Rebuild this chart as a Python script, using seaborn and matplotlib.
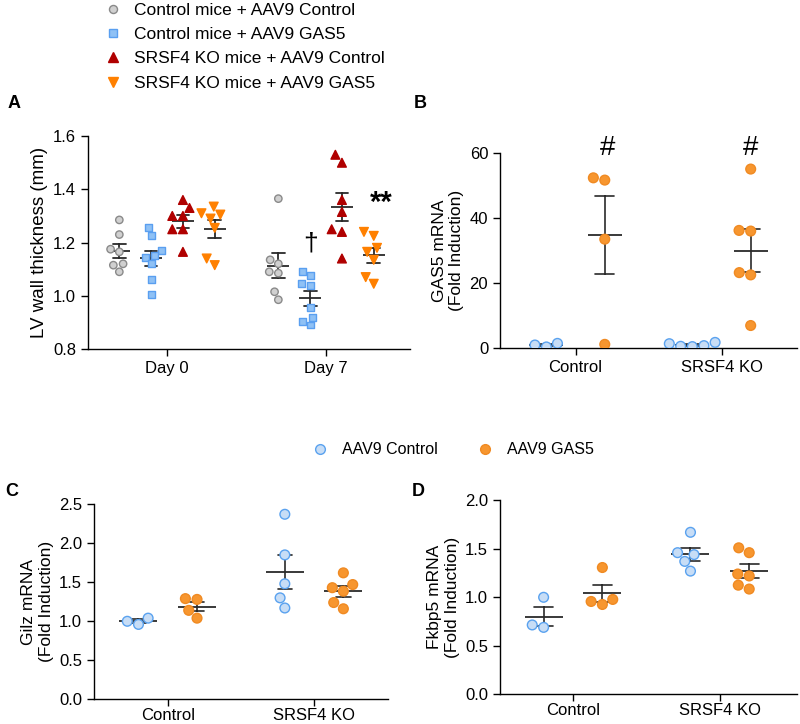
import numpy as np
import pandas as pd
import matplotlib
matplotlib.use("Agg")
import matplotlib.pyplot as plt
import seaborn as sns
from matplotlib.lines import Line2D

sns.set_theme(style="ticks")
plt.rcParams["font.family"] = ["Liberation Sans", "DejaVu Sans"]
plt.rcParams["text.color"] = "black"
plt.rcParams["axes.labelcolor"] = "black"
plt.rcParams["xtick.color"] = "black"
plt.rcParams["ytick.color"] = "black"
plt.rcParams["axes.edgecolor"] = "black"

# ---------------- Panel A data ----------------
days = ["Day 0", "Day 7"]
groups_A = ["Control mice + AAV9 Control", "Control mice + AAV9 GAS5",
            "SRSF4 KO mice + AAV9 Control", "SRSF4 KO mice + AAV9 GAS5"]
lv_d0_ctrl_ctrl = [1.285, 1.23, 1.175, 1.165, 1.12, 1.115, 1.09]
lv_d0_ctrl_gas5 = [1.255, 1.225, 1.17, 1.15, 1.145, 1.12, 1.06, 1.005]
lv_d0_ko_ctrl = [1.36, 1.33, 1.30, 1.30, 1.25, 1.25, 1.165]
lv_d0_ko_gas5 = [1.335, 1.31, 1.305, 1.29, 1.255, 1.14, 1.115]
lv_d7_ctrl_ctrl = [1.365, 1.135, 1.12, 1.09, 1.085, 1.015, 0.985]
lv_d7_ctrl_gas5 = [1.09, 1.075, 1.045, 1.04, 0.955, 0.92, 0.905, 0.89]
lv_d7_ko_ctrl = [1.53, 1.50, 1.36, 1.315, 1.25, 1.24, 1.14]
lv_d7_ko_gas5 = [1.24, 1.225, 1.18, 1.165, 1.135, 1.07, 1.045]

# ---------------- Panels B-D data ----------------
genotypes = ["Control", "SRSF4 KO"]
treatments = ["AAV9 Control", "AAV9 GAS5"]
gas5_ctrl_aavctrl = [1.5, 0.4, 1.0]
gas5_ctrl_aavgas5 = [51.8, 52.5, 33.6, 1.2]
gas5_ko_aavctrl = [0.8, 1.8, 0.5, 1.4, 0.6]
gas5_ko_aavgas5 = [55.2, 36.1, 36.3, 23.3, 22.6, 7.0]

gilz_ctrl_aavctrl = [1.04, 0.96, 1.0]
gilz_ctrl_aavgas5 = [1.29, 1.28, 1.14, 1.04]
gilz_ko_aavctrl = [2.37, 1.85, 1.48, 1.30, 1.17]
gilz_ko_aavgas5 = [1.62, 1.47, 1.43, 1.385, 1.24, 1.16]

fkbp5_ctrl_aavctrl = [1.0, 0.69, 0.715]
fkbp5_ctrl_aavgas5 = [1.307, 0.978, 0.926, 0.957]
fkbp5_ko_aavctrl = [1.67, 1.46, 1.44, 1.37, 1.27]
fkbp5_ko_aavgas5 = [1.51, 1.46, 1.24, 1.22, 1.085, 1.125]

# ---------------- styles ----------------
styleA = {
    groups_A[0]: dict(marker="o", fc="#d0d0d0", ec="#8a8a8a", size=5.3),
    groups_A[1]: dict(marker="s", fc="#8fc1f5", ec="#5a9ff0", size=5.0),
    groups_A[2]: dict(marker="^", fc="#b00000", ec="#b00000", size=6.3),
    groups_A[3]: dict(marker="v", fc="#ff8000", ec="#ff8000", size=6.3),
}
styleT = {
    treatments[0]: dict(fc="#c7ddf6", ec="#5aa2ef"),
    treatments[1]: dict(fc="#f7962f", ec="#f08a22"),
}
ERR = "#2a2a2a"
TICK_FS = 12

# ---------------- build frames ----------------
rows = []
for day, lists in zip(days, [[lv_d0_ctrl_ctrl, lv_d0_ctrl_gas5, lv_d0_ko_ctrl, lv_d0_ko_gas5],
                             [lv_d7_ctrl_ctrl, lv_d7_ctrl_gas5, lv_d7_ko_ctrl, lv_d7_ko_gas5]]):
    for g, vals in zip(groups_A, lists):
        for v in vals:
            rows.append((day, g, v))
dfA = pd.DataFrame(rows, columns=["day", "group", "value"])


def make_df(cc, cg, kc, kg):
    r = []
    for geno, lists in zip(genotypes, [[cc, cg], [kc, kg]]):
        for t, vals in zip(treatments, lists):
            for v in vals:
                r.append((geno, t, v))
    return pd.DataFrame(r, columns=["geno", "treat", "value"])


dfB = make_df(gas5_ctrl_aavctrl, gas5_ctrl_aavgas5, gas5_ko_aavctrl, gas5_ko_aavgas5)
dfC = make_df(gilz_ctrl_aavctrl, gilz_ctrl_aavgas5, gilz_ko_aavctrl, gilz_ko_aavgas5)
dfD = make_df(fkbp5_ctrl_aavctrl, fkbp5_ctrl_aavgas5, fkbp5_ko_aavctrl, fkbp5_ko_aavgas5)

fig = plt.figure(figsize=(8, 7.24), dpi=100)


def style_ax(ax, xpad=3.5):
    sns.despine(ax=ax)
    for s in ["left", "bottom"]:
        ax.spines[s].set_linewidth(1.0)
        ax.spines[s].set_color("black")
    ax.tick_params(axis="both", labelsize=TICK_FS, length=5, width=1.0, direction="out")
    ax.tick_params(axis="x", pad=xpad)
    ax.set_xlabel("")


# ---------------- Panel A ----------------
axA = fig.add_axes([0.11, 0.518, 0.4025, 0.294])
for g in groups_A:
    st = styleA[g]
    sns.swarmplot(data=dfA[dfA.group == g], x="day", y="value", hue="group",
                  hue_order=groups_A, order=days, dodge=True, marker=st["marker"],
                  palette={k: st["fc"] for k in groups_A}, edgecolor=st["ec"],
                  linewidth=1.0, size=st["size"], legend=False, ax=axA, warn_thresh=1)
sns.pointplot(data=dfA, x="day", y="value", hue="group", hue_order=groups_A, order=days,
              dodge=0.6, errorbar="se", capsize=0.08, markers="_", linestyle="none",
              palette={k: ERR for k in groups_A}, markersize=16, markeredgewidth=1.3,
              err_kws={"linewidth": 1.3}, legend=False, ax=axA)
axA.set_ylim(0.8, 1.6)
axA.set_yticks([0.8, 1.0, 1.2, 1.4, 1.6])
axA.set_yticklabels(["0.8", "1.0", "1.2", "1.4", "1.6"])
axA.set_xlim(-0.497, 1.528)
axA.set_ylabel("LV wall thickness (mm)", fontsize=13.5)
style_ax(axA)
axA.text(0.9, 1.195, "\u2020", ha="center", va="center", fontsize=19)
axA.text(1.35, 1.35, "**", ha="center", va="center", fontsize=21, fontweight="bold")


def panel(rect, df, ylim, yticks, yticklabels, ylabel, xlim, capsize, msize, xpad=3.5):
    ax = fig.add_axes(rect)
    for t in treatments:
        st = styleT[t]
        sns.swarmplot(data=df[df.treat == t], x="geno", y="value", hue="treat",
                      hue_order=treatments, order=genotypes, dodge=True, marker="o",
                      palette={k: st["fc"] for k in treatments}, edgecolor=st["ec"],
                      linewidth=1.0, size=7, legend=False, ax=ax, warn_thresh=1)
    sns.pointplot(data=df, x="geno", y="value", hue="treat", hue_order=treatments,
                  order=genotypes, dodge=0.4, errorbar="se", capsize=capsize, markers="_",
                  linestyle="none", palette={k: ERR for k in treatments},
                  markersize=msize, markeredgewidth=1.3, err_kws={"linewidth": 1.2},
                  legend=False, ax=ax)
    ax.set_ylim(*ylim)
    ax.set_yticks(yticks)
    ax.set_yticklabels(yticklabels)
    ax.set_xlim(*xlim)
    ax.set_ylabel(ylabel, fontsize=12.5)
    style_ax(ax, xpad)
    return ax


axB = panel([0.625, 0.519, 0.371, 0.269], dfB, (0, 60), [0, 20, 40, 60],
            ["0", "20", "40", "60"], "GAS5 mRNA\n(Fold Induction)", (-0.518, 1.516), 0.13, 25)
axB.text(0.22, 61.8, "#", ha="center", va="center", fontsize=20)
axB.text(1.2, 61.8, "#", ha="center", va="center", fontsize=20)

axC = panel([0.1175, 0.034, 0.3675, 0.2697], dfC, (0, 2.5), [0, 0.5, 1.0, 1.5, 2.0, 2.5],
            ["0.0", "0.5", "1.0", "1.5", "2.0", "2.5"], "Gilz mRNA\n(Fold Induction)",
            (-0.504, 1.505), 0.1, 27, xpad=1.5)

axD = panel([0.625, 0.041, 0.371, 0.268], dfD, (0, 2.0), [0, 0.5, 1.0, 1.5, 2.0],
            ["0.0", "0.5", "1.0", "1.5", "2.0"], "Fkbp5 mRNA\n(Fold Induction)",
            (-0.497, 1.524), 0.13, 27, xpad=1.5)

# ---------------- Legends ----------------
handlesA = [Line2D([], [], linestyle="none", marker=styleA[g]["marker"],
                   markerfacecolor=styleA[g]["fc"], markeredgecolor=styleA[g]["ec"],
                   markersize=styleA[g]["size"] + 0.5, label=g) for g in groups_A]
fig.legend(handles=handlesA, loc="upper left", bbox_to_anchor=(0.130, 0.996), frameon=False,
           fontsize=12.5, handlelength=1.0, handletextpad=0.75, borderpad=0,
           labelspacing=0.52, borderaxespad=0)

handlesT = [Line2D([], [], linestyle="none", marker="o", markerfacecolor=styleT[t]["fc"],
                   markeredgecolor=styleT[t]["ec"], markersize=7, label=t) for t in treatments]
fig.legend(handles=handlesT, loc="center left", bbox_to_anchor=(0.39, 1 - 450 / 724),
           frameon=False, ncol=2, fontsize=11.5, handlelength=1.0, handletextpad=0.85,
           columnspacing=2.5, borderpad=0, borderaxespad=0)

# ---------------- panel letters ----------------
for lab, x, y in [("A", 14, 103), ("B", 420, 103), ("C", 12, 492), ("D", 418, 492)]:
    fig.text(x / 800, 1 - y / 724, lab, ha="center", va="center", fontsize=13, fontweight="bold")

fig.savefig("out.png", dpi=100)
